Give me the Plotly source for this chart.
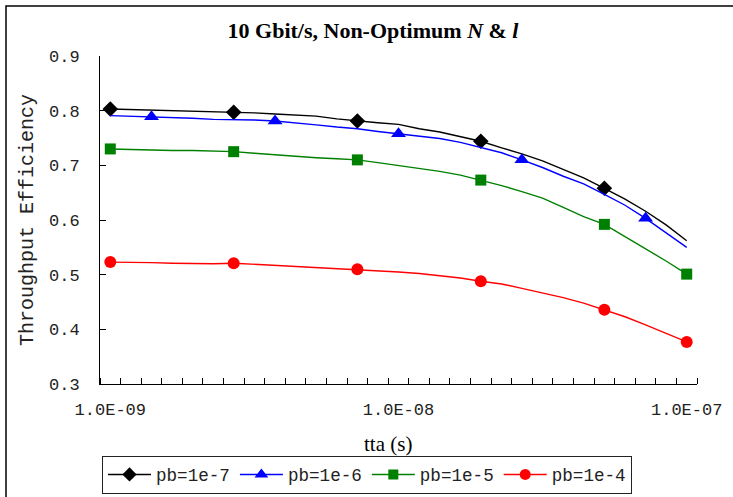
import numpy as np
import plotly.graph_objects as go

# ---- data ----
tta = [1.00e-9, 1.18e-9, 1.39e-9, 1.64e-9, 1.93e-9, 2.28e-9, 2.68e-9, 3.16e-9, 3.73e-9,
       4.39e-9, 5.18e-9, 6.11e-9, 7.20e-9, 8.48e-9, 1.00e-8, 1.18e-8, 1.39e-8, 1.64e-8,
       1.93e-8, 2.28e-8, 2.68e-8, 3.16e-8, 3.73e-8, 4.39e-8, 5.18e-8, 6.11e-8, 7.20e-8,
       8.48e-8, 1.00e-7]

pb_1e7 = [0.803, 0.802, 0.801, 0.801, 0.800, 0.799, 0.797, 0.796, 0.794, 0.792, 0.790,
          0.785, 0.781, 0.778, 0.775, 0.767, 0.761, 0.753, 0.744, 0.732, 0.721, 0.708,
          0.693, 0.677, 0.658, 0.638, 0.616, 0.591, 0.562]
pb_1e6 = [0.791, 0.790, 0.789, 0.788, 0.786, 0.784, 0.784, 0.783, 0.781, 0.778, 0.774,
          0.770, 0.767, 0.762, 0.758, 0.753, 0.749, 0.742, 0.732, 0.723, 0.710, 0.696,
          0.680, 0.666, 0.647, 0.627, 0.603, 0.577, 0.550]
pb_1e5 = [0.730, 0.729, 0.727, 0.727, 0.727, 0.726, 0.725, 0.722, 0.719, 0.717, 0.714,
          0.712, 0.710, 0.705, 0.700, 0.695, 0.689, 0.682, 0.673, 0.663, 0.652, 0.640,
          0.623, 0.606, 0.592, 0.570, 0.547, 0.525, 0.501]
pb_1e4 = [0.523, 0.523, 0.522, 0.521, 0.520, 0.520, 0.521, 0.519, 0.517, 0.515, 0.514,
          0.512, 0.510, 0.507, 0.505, 0.502, 0.498, 0.494, 0.488, 0.483, 0.475, 0.467,
          0.458, 0.448, 0.436, 0.423, 0.408, 0.393, 0.377]

series_names = ["pb=1e-7", "pb=1e-6", "pb=1e-5", "pb=1e-4"]
series_values = [pb_1e7, pb_1e6, pb_1e5, pb_1e4]
marker_points = [[0, 6, 12, 18, 24], [2, 8, 14, 20, 26],
                 [0, 6, 12, 18, 24, 28], [0, 6, 12, 18, 24, 28]]

x_tick_vals = [1e-9, 1e-8, 1e-7]
x_tick_text = ["1.0E-09", "1.0E-08", "1.0E-07"]
y_tick_vals = [0.3, 0.4, 0.5, 0.6, 0.7, 0.8, 0.9]
y_tick_text = ["0.3", "0.4", "0.5", "0.6", "0.7", "0.8", "0.9"]

# ---- style ----
colors = ["#000000", "#0000FF", "#008000", "#FF0000"]
symbols = ["diamond", "triangle-up", "square", "circle"]
msizes = [12, 13, 11, 12]

MONO = "Liberation Mono"
SERIF = "Liberation Serif"

fig = go.Figure()
for name, vals, mk, c, s, ms in zip(series_names, series_values, marker_points,
                                     colors, symbols, msizes):
    fig.add_trace(go.Scatter(x=tta, y=vals, mode="lines",
                             line=dict(color=c, width=1.4), showlegend=False,
                             hoverinfo="skip"))
    fig.add_trace(go.Scatter(x=[tta[i] for i in mk], y=[vals[i] for i in mk],
                             mode="markers", marker=dict(color=c, symbol=s, size=ms),
                             showlegend=False, name=name))
for name, c, s, ms in zip(series_names, colors, symbols, msizes):
    fig.add_trace(go.Scatter(x=[None], y=[None], mode="lines+markers", name=name,
                             line=dict(color=c, width=1.4),
                             marker=dict(color=c, symbol=s, size=ms - 1)))

# category-boundary ticks (Excel style), 14 steps per decade
lo, hi = np.log10(tta[0]), np.log10(tta[-1])
step = (hi - lo) / (len(tta) - 1)
bounds = [10 ** (lo + (k - 0.5) * step) for k in range(len(tta) + 1)]

fig.update_layout(
    width=733, height=497,
    margin=dict(l=100, r=36, t=56, b=113),
    paper_bgcolor="white", plot_bgcolor="white",
    showlegend=True,
    legend=dict(orientation="h", xref="container", yref="container",
                x=102 / 733, xanchor="left", y=1 - 474.5 / 497, yanchor="middle",
                bordercolor="#222222", borderwidth=1, bgcolor="white",
                font=dict(family=MONO, size=17.6, color="#222222"),
                itemwidth=43, tracegroupgap=0),
    xaxis=dict(type="log", range=[lo - step / 2, hi + step / 2], automargin=False,
               tickmode="array", tickvals=x_tick_vals, ticktext=x_tick_text,
               ticks="", showgrid=False, zeroline=False,
               showline=True, linecolor="#000000", linewidth=1,
               tickfont=dict(family=MONO, size=17, color="#222222"),
               ticklabelstandoff=10,
               minor=dict(tickmode="array", tickvals=bounds, ticks="inside",
                          ticklen=6, tickcolor="#000000", tickwidth=1, showgrid=False)),
    yaxis=dict(range=[0.3, 0.9], tickmode="array", tickvals=y_tick_vals, automargin=False,
               ticktext=y_tick_text, ticks="inside", ticklen=6, tickcolor="#000000",
               showgrid=False, zeroline=False, showline=True, linecolor="#000000",
               linewidth=1, tickfont=dict(family=MONO, size=17, color="#222222"),
               ticklabelstandoff=16,
               title=dict(text="Throughput Efficiency", standoff=9,
                          font=dict(family=MONO, size=20, color="#222222"))),
    title=dict(text="<b>10 Gbit/s, Non-Optimum <i>N</i> & <i>l</i></b>",
               x=373 / 733, xanchor="center", xref="container",
               y=1 - 30 / 497, yanchor="middle", yref="container",
               font=dict(family=SERIF, size=22, color="#000000")),
    annotations=[dict(text="tta (s)", xref="paper", yref="paper",
                      x=(388 - 100) / 597, y=(384 - 444) / 328,
                      xanchor="center", yanchor="middle", showarrow=False,
                      font=dict(family=SERIF, size=21, color="#000000"))],
    shapes=[dict(type="rect", xref="paper", yref="paper",
                 x0=(6 - 100) / 597, y0=-0.6, x1=1.2, y1=(384 - 6) / 328,
                 line=dict(color="#000000", width=1.5), layer="below")],
)

fig.write_html("out.html")
